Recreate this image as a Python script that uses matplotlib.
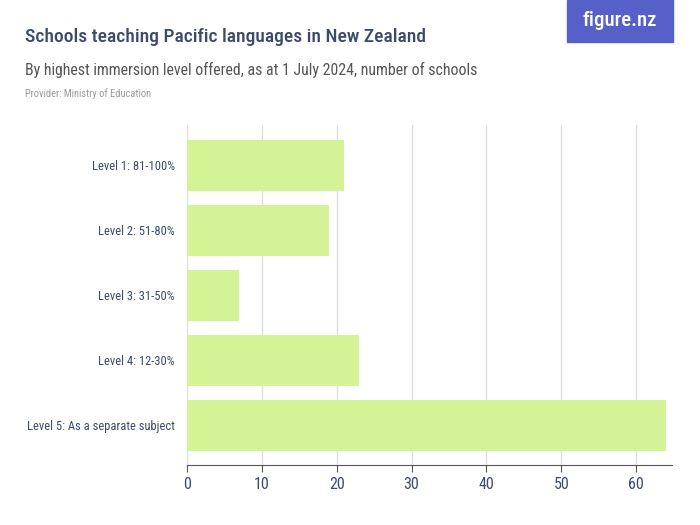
import matplotlib
matplotlib.use('Agg')
from matplotlib import pyplot as plt
from matplotlib import font_manager
from matplotlib.patches import Rectangle

categories = ['Level 1: 81-100%', 'Level 2: 51-80%', 'Level 3: 31-50%',
              'Level 4: 12-30%', 'Level 5: As a separate subject']
schools = [21, 19, 7, 23, 64]
xticks = [0, 10, 20, 30, 40, 50, 60]

# narrow sans if we have one, else fall back
installed = {f.name for f in font_manager.fontManager.ttflist}
font = next((f for f in ['Roboto Condensed', 'Archivo Narrow', 'PT Sans Narrow', 'Liberation Sans']
             if f in installed), 'DejaVu Sans')
plt.rcParams['font.family'] = [font, 'DejaVu Sans']

navy = '#3b4a6b'
fig = plt.figure(figsize=(7, 5.25), dpi=100)
ax = fig.add_axes([187/700, 1-465/525, (672-187)/700, (465-125)/525])

ypos = list(range(len(categories)))
ax.barh(ypos, schools, height=0.79, color='#d4f397', zorder=2)
ax.set_yticks(ypos)
ax.set_yticklabels(categories)
ax.set_ylim(len(categories) - 1 + 0.61, -0.623)
ax.set_xlim(0, 64.8)
ax.set_xticks(xticks)
ax.grid(axis='x', color='#dddddd', linewidth=1, zorder=0)
for s in ['top', 'right', 'left']:
    ax.spines[s].set_visible(False)
ax.spines['bottom'].set_color('#555555')
ax.tick_params(axis='y', length=0, pad=9, labelsize=9, labelcolor=navy)
ax.tick_params(axis='x', length=5, color='#555555', labelsize=11.5, labelcolor=navy)

fig.text(25/700, 1-37/525, 'Schools teaching Pacific languages in New Zealand',
         fontsize=14, color=navy, va='center', fontweight='medium')
fig.text(25/700, 1-70/525, 'By highest immersion level offered, as at 1 July 2024, number of schools',
         fontsize=11.4, color='#555555', va='center')
fig.text(25/700, 1-94/525, 'Provider: Ministry of Education',
         fontsize=7.5, color='#999999', va='center')

fig.patches.append(Rectangle((567/700, 1-42/525), 106/700, 42/525,
                             transform=fig.transFigure, color='#5560c8', zorder=0))
fig.text(620/700, 1-20/525, 'figure.nz', fontsize=15, color='white',
         ha='center', va='center', family=[font, 'DejaVu Sans'], fontweight='medium')

fig.savefig('out.png', dpi=100)
